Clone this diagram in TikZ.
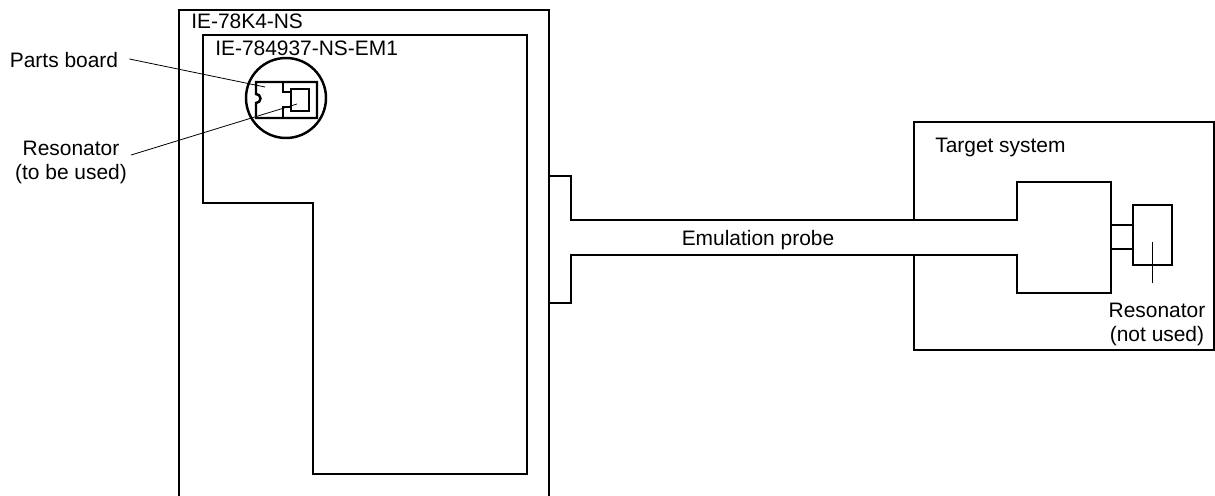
\documentclass[tikz,border=0pt]{standalone}
\usepackage{fontspec}
\setmainfont{Liberation Sans}
\usetikzlibrary{positioning,calc}
\tikzset{
  vonal/.style={draw,line width=1.85pt,line join=miter},
  vek/.style={draw,line width=0.6pt},
  felir/.style={inner sep=0pt,align=center,font=\fontsize{15.7}{18}\selectfont},
}
\begin{document}
\begin{tikzpicture}[x=0.75pt,y=-0.75pt]
  \useasboundingbox (0,0) rectangle (1215,496);
  % emulator and board
  \draw[vonal] (179,496) -- (179,10) -- (549,10) -- (549,496);
  \draw[vonal] (203,35) -- (527,35) -- (527,474) -- (313,474) -- (313,203) -- (203,203) -- cycle;
  \node[felir,anchor=west] (ie78) at (191,21) {IE-78K4-NS};
  \node[felir,anchor=west] (ie784) at (215,48) {IE-784937-NS-EM1};
  % parts board in the circle
  \draw[vonal] (286,98) circle (40);
  \draw[vonal] (256,94) -- (256,82) -- (317,82) -- (317,118) -- (256,118) -- (256,103)
    arc (90:-90:4.5) -- cycle;
  \draw[vonal] (283,82) -- (283,92) -- (291,92);
  \draw[vonal] (283,118) -- (283,107) -- (291,107);
  \draw[vonal] (291,89) rectangle (309,111);
  % probe and target
  \draw[vonal] (549,176) -- (571,176) -- (571,220) -- (1017,220) -- (1017,182) -- (1111,182)
    -- (1111,293) -- (1017,293) -- (1017,255) -- (571,255) -- (571,303) -- (549,303);
  \draw[vonal] (914,220) -- (914,122) -- (1214,122) -- (1214,350) -- (914,350) -- (914,255);
  \draw[vonal] (1111,225) -- (1133,225);
  \draw[vonal] (1111,249) -- (1133,249);
  \draw[vonal] (1133,205) rectangle (1172,265);
  \node[felir,anchor=west] (target) at (935,147) {Target system};
  \node[felir] (probe) at (758,240) {Emulation probe};
  % labels and leaders
  \node[felir] (partslbl) at (64,60) {Parts board};
  \node[felir] (reslbl) at (71,162) {Resonator\\(to be used)};
  \node[felir] (notlbl) at (1157,324) {Resonator\\(not used)};
  \coordinate (partstip) at (265,87);
  \coordinate (restip) at (297,104);
  \coordinate (nottip) at (1152,242);
  \draw[vek] ($(partslbl.east)+(11,-1)$) -- (partstip);
  \draw[vek] ($(reslbl.east)+(4,-7)$) -- (restip);
  \draw[vek] ($(notlbl.north)+(-5,-19)$) -- (nottip);
\end{tikzpicture}
\end{document}
